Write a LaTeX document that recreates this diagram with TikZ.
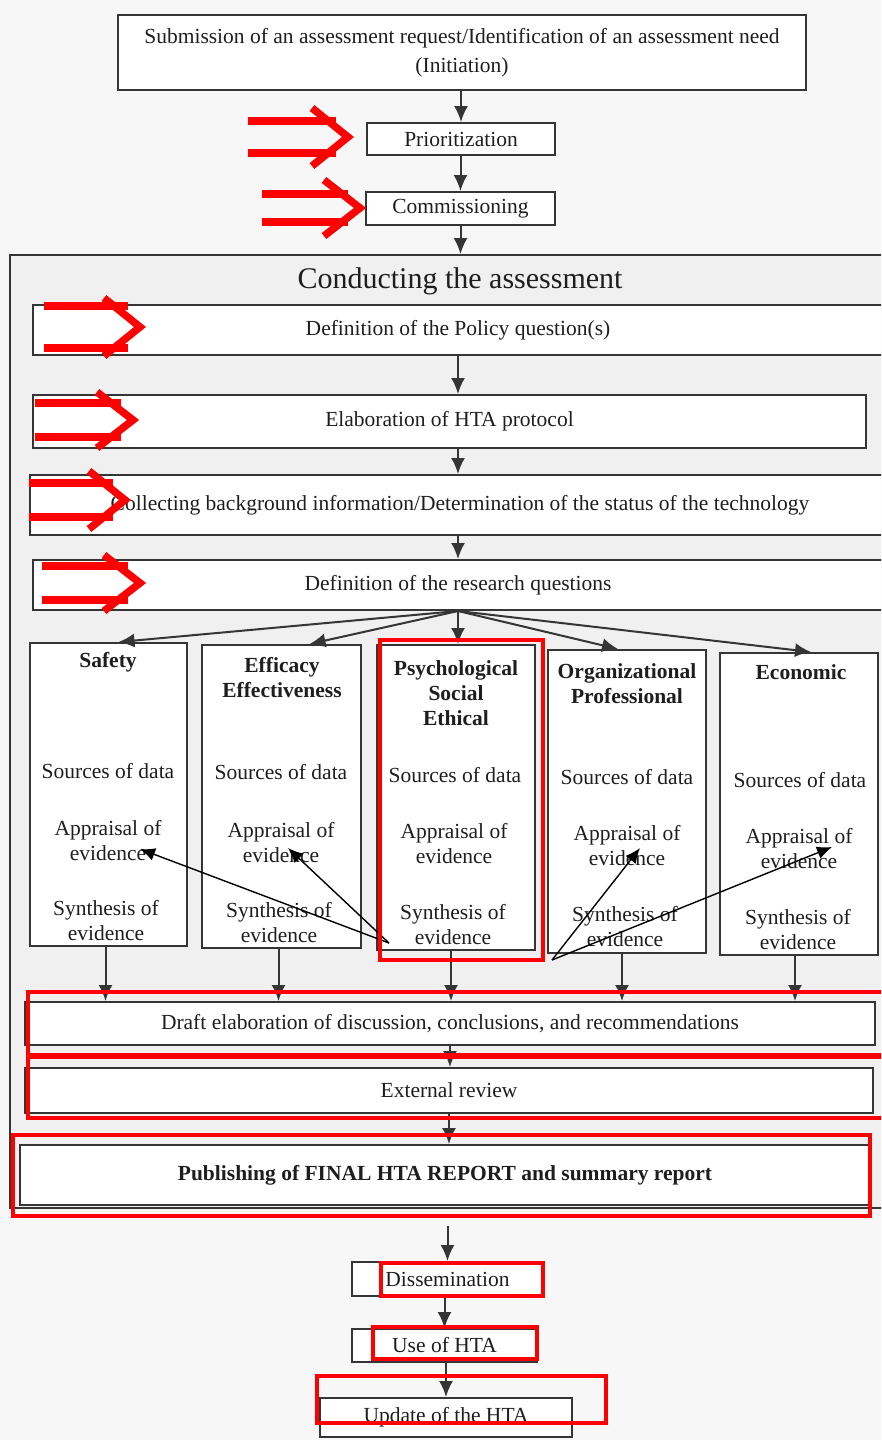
\documentclass[tikz,border=0pt]{standalone}
\usepackage{fontspec}
\setmainfont{Liberation Serif}
\usetikzlibrary{arrows.meta}
\definecolor{ink}{HTML}{1E1E1E}
\definecolor{hl}{HTML}{FF0000}
\newcommand{\fsz}{\fontsize{21.5}{25}\selectfont}
\newcommand{\hlarrow}[5]{% apex x, apex y, tail length, half gap, chevron half height
  \draw[redarrow] (#1-#3-12,#2-#4) -- (#1-12,#2-#4);
  \draw[redarrow] (#1-#3-12,#2+#4) -- (#1-12,#2+#4);
  \draw[redarrow,miter limit=10] (#1-36,#2-#5) -- (#1,#2) -- (#1-36,#2+#5);}
\tikzset{
  box/.style={draw=ink!90, line width=2pt, fill=white, inner sep=0pt, text=ink, font=\fsz, align=center},
  flow/.style={draw=ink!90, line width=2pt, -{Latex[length=16pt,width=14pt]}},
  note/.style={draw=black, line width=1.4pt, -{Latex[length=15pt,width=13pt]}},
  frame/.style={draw=hl, line width=3.5pt},
  redarrow/.style={draw=hl, line width=7.5pt},
  lbl/.style={text=ink, font=\fsz, align=center, inner sep=0pt},
  ttl/.style={text=ink, font=\fsz\bfseries, align=center, inner sep=0pt},
}
\begin{document}
\begin{tikzpicture}[x=1pt,y=-1pt]
\useasboundingbox (0,0) rectangle (881,1440);
\clip (0,0) rectangle (881,1440);
\fill[black!3] (0,0) rectangle (881,1440);

% top sequence
\node[box, minimum width=688pt, minimum height=75pt, font=\fontsize{21.5}{29}\selectfont] (init) at (462,52.5)
  {Submission of an assessment request/Identification of an assessment need\\(Initiation)};
\node[box, minimum width=188pt, minimum height=32pt] (prior) at (461,139) {Prioritization};
\node[box, minimum width=189pt, minimum height=33pt] (comm) at (460.5,208.5) {Commissioning};

% outer box
\node[draw=ink!90, line width=2pt, fill=black!6, minimum width=880pt, minimum height=953pt, inner sep=0pt] (outer) at (450,731.5) {};
\node[lbl, font=\fontsize{30}{34}\selectfont] (title) at (460,281) {Conducting the assessment};

\node[box, minimum width=850pt, minimum height=50pt] (policy) at (458,330) {Definition of the Policy question(s)};
\node[box, minimum width=833pt, minimum height=53pt] (elab) at (449.5,421.5) {Elaboration of HTA protocol};
\node[box, minimum width=860pt, minimum height=60pt] (collect) at (460,505) {Collecting background information/Determination of the status of the technology};
\node[box, minimum width=850pt, minimum height=50pt] (research) at (458,585) {Definition of the research questions};

% columns
\node[box, minimum width=157pt, minimum height=303pt] (safety) at (108.5,794.5) {};
\node[box, minimum width=159pt, minimum height=303pt] (efficacy) at (281.5,796.5) {};
\node[box, minimum width=158pt, minimum height=305pt] (psych) at (456,797.5) {};
\node[box, minimum width=158pt, minimum height=303pt] (org) at (627,801.5) {};
\node[box, minimum width=158pt, minimum height=302pt] (econ) at (799,804) {};

\node[ttl] (saT) at (108,662) {Safety};
\node[lbl] (saS) at (108,771) {Sources of data};
\node[lbl] (saA) at (108,841) {Appraisal of\\evidence};
\node[lbl] (saY) at (106,921) {Synthesis of\\evidence};

\node[ttl] (efT) at (282,678) {Efficacy\\Effectiveness};
\node[lbl] (efS) at (281,772) {Sources of data};
\node[lbl] (efA) at (281,843) {Appraisal of\\evidence};
\node[lbl] (efY) at (279,923) {Synthesis of\\evidence};

\node[ttl] (psT) at (456,693.5) {Psychological\\Social\\Ethical};
\node[lbl] (psS) at (455,775) {Sources of data};
\node[lbl] (psA) at (454,844) {Appraisal of\\evidence};
\node[lbl] (psY) at (453,925) {Synthesis of\\evidence};

\node[ttl] (orT) at (627,683.5) {Organizational\\Professional};
\node[lbl] (orS) at (627,777) {Sources of data};
\node[lbl] (orA) at (627,846) {Appraisal of\\evidence};
\node[lbl] (orY) at (625,927) {Synthesis of\\evidence};

\node[ttl] (ecT) at (801,672) {Economic};
\node[lbl] (ecS) at (800,780) {Sources of data};
\node[lbl] (ecA) at (799,849) {Appraisal of\\evidence};
\node[lbl] (ecY) at (798,930) {Synthesis of\\evidence};

% lower boxes
\node[box, minimum width=850pt, minimum height=43pt] (draft) at (450,1023.5) {Draft elaboration of discussion, conclusions, and recommendations};
\node[box, minimum width=848pt, minimum height=45pt] (review) at (449,1090.5) {External review};
\node[box, minimum width=850pt, minimum height=60pt, font=\fsz\bfseries] (publ) at (445,1175) {Publishing of FINAL HTA REPORT and summary report};

\node[box, minimum width=191pt, minimum height=34pt] (dissem) at (447.5,1279) {Dissemination};
\node[box, minimum width=185pt, minimum height=33pt] (use) at (444.5,1345.5) {Use of HTA};
\node[box, minimum width=252pt, minimum height=39pt] (update) at (446,1417.5) {Update of the HTA};

% flow arrows
\draw[flow] (prior.north |- init.south) -- (prior.north);
\draw[flow] (comm.north |- prior.south) -- (comm.north);
\draw[flow] (comm.south) -- (comm.south |- outer.north);
\draw[flow] (policy.south) -- (policy.south |- elab.north);
\draw[flow] (elab.south -| policy.south) -- (collect.north -| policy.south);
\draw[flow] (collect.south -| research.south) -- (research.north);
\draw[flow] (research.south) -- ([xshift=10pt]safety.north);
\draw[flow] (research.south) -- ([xshift=28pt]efficacy.north);
\draw[flow] (research.south) -- (research.south |- psych.north);
\draw[flow] (research.south) -- ([xshift=-9pt]org.north);
\draw[flow] (research.south) -- ([xshift=12pt]econ.north);
\draw[flow] ([xshift=-3pt]safety.south) -- ([xshift=-3pt]safety.south |- draft.north);
\draw[flow] ([xshift=-3pt]efficacy.south) -- ([xshift=-3pt]efficacy.south |- draft.north);
\draw[flow] ([xshift=-5pt]psych.south) -- ([xshift=-5pt]psych.south |- draft.north);
\draw[flow] ([xshift=-5pt]org.south) -- ([xshift=-5pt]org.south |- draft.north);
\draw[flow] ([xshift=-4pt]econ.south) -- ([xshift=-4pt]econ.south |- draft.north);
\draw[flow] (draft.south) -- (draft.south |- review.north);
\draw[flow] (review.south) -- (review.south |- publ.north);
\draw[flow] ([yshift=-20pt]dissem.north |- publ.south) -- (dissem.north);
\draw[flow] (use.north |- dissem.south) -- (use.north);
\draw[flow] (update.north |- use.south) -- (update.north);

% black annotation arrows
\coordinate (n1) at (389,943);
\coordinate (n2) at (552,960);
\coordinate (t1) at (140,849);
\coordinate (t2) at (288,848);
\coordinate (t3) at (640,848);
\coordinate (t4) at (832,847);
\draw[note] (n1) -- (t1);
\draw[note] (n1) -- (t2);
\draw[note] (n2) -- (t3);
\draw[note] (n2) -- (t4);

% red double arrows
\hlarrow{348}{137}{88}{16}{29}
\hlarrow{360}{208}{86}{14}{28}
\hlarrow{140}{327}{84}{21}{29}
\hlarrow{133}{420}{86}{17}{28}
\hlarrow{125}{500}{84}{17}{29}
\hlarrow{140}{583}{86}{17}{28}

% red frames
\draw[frame] (380,640) rectangle (543,960);
\draw[frame] (28,992) rectangle (885,1055);
\draw[frame] (28,1057) rectangle (885,1118);
\draw[frame] (13,1135) rectangle (870,1216);
\draw[frame] (381,1263) rectangle (543,1296);
\draw[frame] (373,1327) rectangle (537,1359);
\draw[frame] (317,1376) rectangle (606,1423);
\end{tikzpicture}
\end{document}
